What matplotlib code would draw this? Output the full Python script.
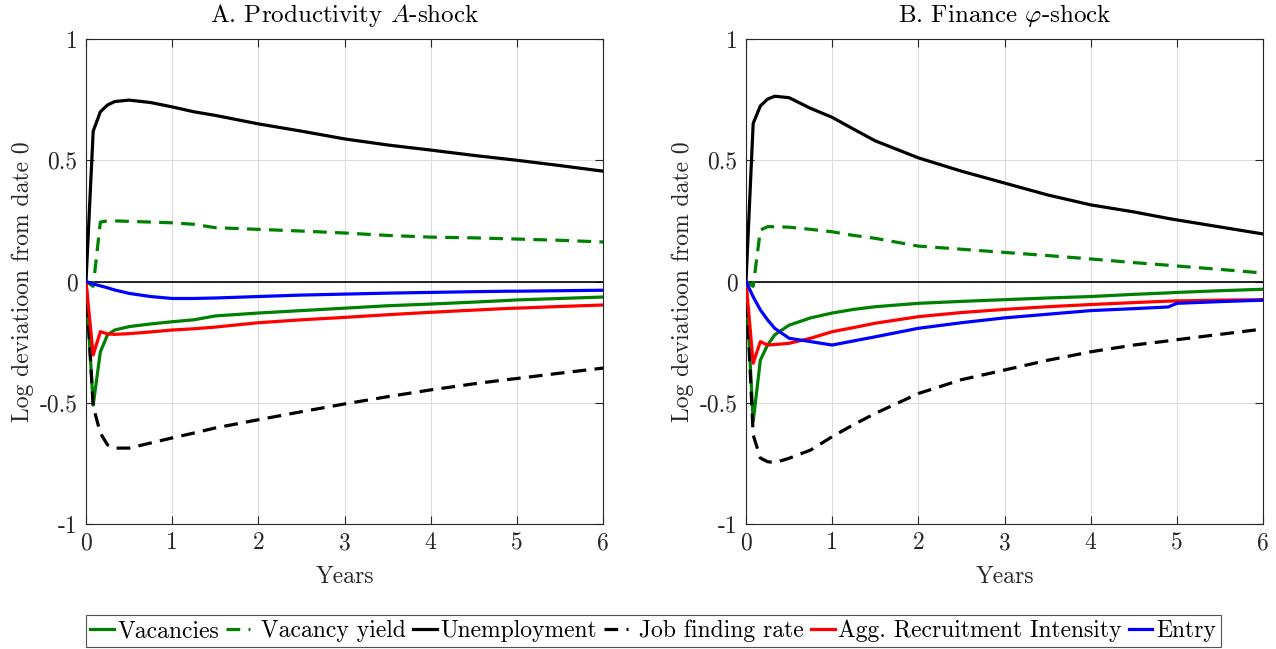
import numpy as np
import matplotlib
matplotlib.use("Agg")
import matplotlib.pyplot as plt

plt.rcParams['font.family'] = ['cmr10', 'DejaVu Serif']
plt.rcParams['mathtext.fontset'] = 'cm'
plt.rcParams['axes.unicode_minus'] = False
plt.rcParams['axes.formatter.use_mathtext'] = True

# time in years
t = [0, 1/12, 2/12, 0.25, 1/3, 0.5, 0.75, 1, 1.25, 1.5, 2, 2.5, 3, 3.5, 4, 4.5, 4.9, 5, 5.5, 6]

# Panel A: productivity shock
vac_A = [0, -0.51, -0.29, -0.22, -0.20, -0.186, -0.175, -0.166, -0.158, -0.142, -0.13, -0.12, -0.11, -0.10, -0.093, -0.085, -0.078, -0.076, -0.07, -0.064]
yield_A = [0, -0.02, 0.245, 0.25, 0.25, 0.248, 0.245, 0.242, 0.236, 0.222, 0.215, 0.208, 0.20, 0.19, 0.183, 0.18, 0.176, 0.175, 0.17, 0.163]
unemp_A = [0, 0.62, 0.70, 0.728, 0.742, 0.748, 0.738, 0.72, 0.70, 0.685, 0.65, 0.62, 0.588, 0.563, 0.542, 0.52, 0.504, 0.50, 0.478, 0.455]
jfr_A = [0, -0.515, -0.625, -0.674, -0.687, -0.687, -0.666, -0.645, -0.625, -0.604, -0.57, -0.537, -0.505, -0.475, -0.447, -0.422, -0.404, -0.40, -0.378, -0.357]
ari_A = [0, -0.303, -0.207, -0.216, -0.218, -0.215, -0.208, -0.2, -0.195, -0.188, -0.17, -0.158, -0.148, -0.137, -0.127, -0.118, -0.111, -0.11, -0.103, -0.097]
entry_A = [0, -0.01, -0.018, -0.026, -0.035, -0.049, -0.062, -0.07, -0.07, -0.068, -0.062, -0.056, -0.052, -0.048, -0.045, -0.042, -0.040, -0.04, -0.038, -0.036]

# Panel B: finance shock
vac_B = [0, -0.578, -0.324, -0.262, -0.22, -0.18, -0.15, -0.13, -0.115, -0.104, -0.09, -0.082, -0.075, -0.068, -0.062, -0.053, -0.047, -0.045, -0.038, -0.032]
yield_B = [0, -0.02, 0.212, 0.226, 0.226, 0.224, 0.215, 0.205, 0.19, 0.178, 0.146, 0.133, 0.12, 0.107, 0.093, 0.078, 0.067, 0.064, 0.05, 0.035]
unemp_B = [0, 0.652, 0.724, 0.752, 0.764, 0.758, 0.714, 0.677, 0.628, 0.58, 0.51, 0.455, 0.406, 0.357, 0.316, 0.287, 0.26, 0.254, 0.225, 0.196]
jfr_B = [0, -0.633, -0.728, -0.743, -0.747, -0.729, -0.695, -0.64, -0.59, -0.544, -0.462, -0.405, -0.365, -0.325, -0.29, -0.262, -0.245, -0.24, -0.218, -0.196]
ari_B = [0, -0.337, -0.248, -0.262, -0.26, -0.255, -0.234, -0.207, -0.19, -0.172, -0.145, -0.128, -0.115, -0.104, -0.095, -0.087, -0.081, -0.08, -0.077, -0.075]
entry_B = [0, -0.063, -0.117, -0.158, -0.193, -0.234, -0.248, -0.262, -0.245, -0.228, -0.193, -0.17, -0.15, -0.135, -0.12, -0.112, -0.105, -0.09, -0.083, -0.077]

labels = ['Vacancies', ' Vacancy yield', 'Unemployment', ' Job finding rate',
          'Agg. Recruitment Intensity', 'Entry']
colors = ['#008000', '#008000', 'black', 'black', '#ff0000', '#0000ff']
dashed = [False, True, False, True, False, False]
panels = [
    ('A. Productivity $A$-shock', [vac_A, yield_A, unemp_A, jfr_A, ari_A, entry_A]),
    (r'B. Finance $\varphi$-shock', [vac_B, yield_B, unemp_B, jfr_B, ari_B, entry_B]),
]

fig = plt.figure(figsize=(12.76, 6.49), dpi=100)
lefts = [86 / 1276, 746 / 1276]
edge = '#262626'
fs = 17

handles = []
for k, (title, series) in enumerate(panels):
    ax = fig.add_axes([lefts[k], 1 - 524 / 649, 517 / 1276, 485 / 649])
    ax.axhline(0, color='black', lw=1.2, zorder=1)
    for i, y in enumerate(series):
        ln, = ax.plot(t, y, color=colors[i], lw=2.3, label=labels[i], zorder=3)
        if dashed[i]:
            ln.set_dashes((4.3, 2.6))
        if k == 0:
            handles.append(ln)
    ax.set_xlim(0, 6)
    ax.set_ylim(-1, 1)
    ax.set_xticks(range(7))
    ax.set_xticklabels([str(v) for v in range(7)])
    ax.set_yticks([-1, -0.5, 0, 0.5, 1])
    ax.set_yticklabels(['-1', '-0.5', '0', '0.5', '1'])
    ax.grid(True, color='#dcdcdc', lw=0.8)
    ax.set_axisbelow(True)
    ax.tick_params(direction='in', top=True, right=True, length=6, width=0.8,
                   colors=edge, labelsize=fs, labelcolor=edge, pad=6)
    for s in ax.spines.values():
        s.set_color(edge)
        s.set_linewidth(0.8)
    ax.set_title(title, fontsize=fs + 1, color='black', pad=12)
    ax.set_xlabel('Years', fontsize=fs, color=edge, labelpad=8)
    ax.set_ylabel('Log deviatioon from date 0', fontsize=fs, color=edge, labelpad=4)

leg = fig.legend(handles=handles, loc='center', bbox_to_anchor=(0.5118, 0.0277),
                 ncol=6, fontsize=fs, frameon=True, fancybox=False,
                 handlelength=1.0, handletextpad=0.15, columnspacing=0.3,
                 borderpad=0.2, borderaxespad=0)
leg.get_frame().set_edgecolor(edge)
leg.get_frame().set_linewidth(0.8)

fig.savefig('out.png', dpi=100)
